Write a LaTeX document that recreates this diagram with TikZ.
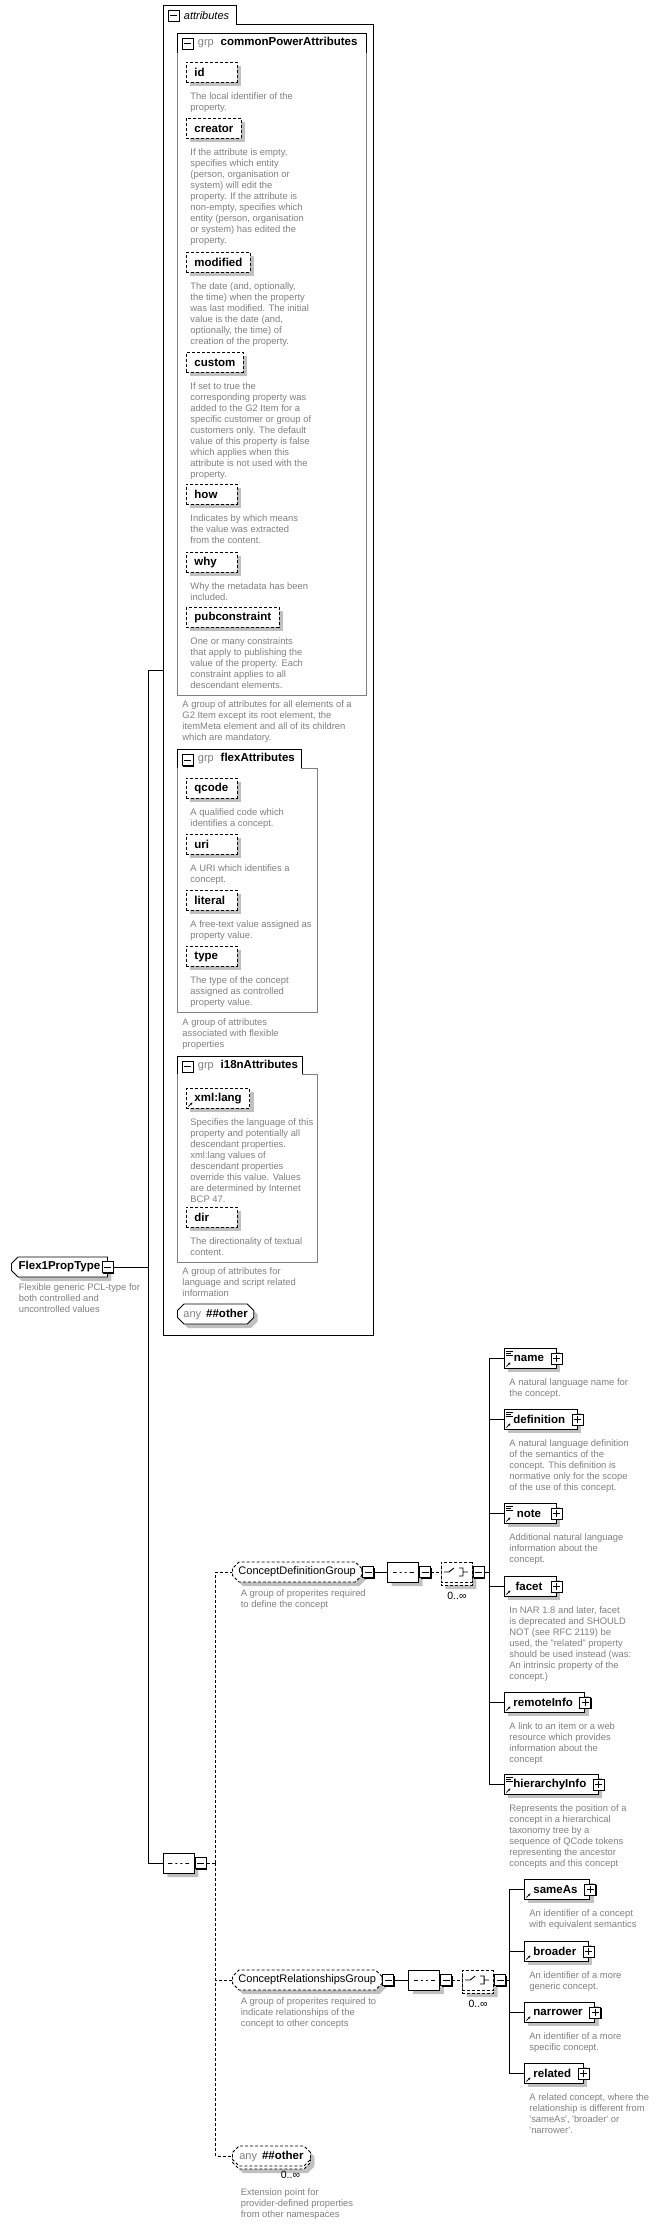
\documentclass[tikz,border=0pt]{standalone}
\usepackage{fontspec}
\setmainfont{Liberation Sans}
\usetikzlibrary{positioning,shapes.misc,shadows,arrows.meta}

\definecolor{descgray}{RGB}{128,128,128}
\definecolor{shadowgray}{RGB}{192,192,192}
\definecolor{groupgray}{RGB}{128,128,128}

\newcommand\attrname[1]{\setbox0=\hbox{#1}\ifdim\wd0<35pt\hbox to 35pt{#1\hfil}\else\box0\fi}
\newcommand\anyword{\fontsize{11}{12}\selectfont\mdseries\color{descgray}}

\tikzset{
  dashline/.style={dash pattern=on 3pt off 2pt},
  grayshadow/.style={drop shadow={shadow xshift=4pt,shadow yshift=-4pt,fill=shadowgray,opacity=1}},
  multishadow/.style={drop shadow={shadow xshift=4pt,shadow yshift=-7pt,fill=shadowgray,opacity=1},
    copy shadow={shadow xshift=0pt,shadow yshift=-3pt,draw,dashline,fill=white}},
  boldlabel/.style={font=\fontsize{11.5}{13}\selectfont\bfseries},
  attr/.style={draw,dashline,fill=white,grayshadow,boldlabel,anchor=north west,minimum height=20pt,inner xsep=8pt,inner ysep=0pt},
  elem/.style={draw,fill=white,grayshadow,boldlabel,anchor=north west,minimum height=20pt,minimum width=52pt,inner xsep=0pt,inner ysep=0pt,
    execute at begin node=\hspace{9pt},execute at end node=\hspace{12pt}},
  refmark/.style={path picture={
    \draw[solid,line width=0.8pt,-{Stealth[length=2.5pt,width=2.5pt]}] ([shift={(2pt,2pt)}]path picture bounding box.south west) -- ++(4pt,4pt);}},
  textmark/.style={path picture={
    \draw[solid,line width=0.8pt,-{Stealth[length=2.5pt,width=2.5pt]}] ([shift={(2pt,2pt)}]path picture bounding box.south west) -- ++(4pt,4pt);
    \draw[solid,line width=0.6pt] ([shift={(2pt,-2.5pt)}]path picture bounding box.north west) -- ++(7pt,0pt)
      ([shift={(2pt,-4.5pt)}]path picture bounding box.north west) -- ++(5pt,0pt)
      ([shift={(2pt,-6.5pt)}]path picture bounding box.north west) -- ++(7pt,0pt);}},
  desc/.style={align=left,inner sep=0pt,text=descgray,font=\fontsize{9.4}{11}\selectfont},
  grplabel/.style={inner sep=0pt,text=descgray,font=\fontsize{11}{12}\selectfont},
  grptitle/.style={inner sep=0pt,boldlabel},
  minusbox/.style={rectangle,draw,solid,fill=white,minimum size=11pt,inner sep=0pt,
    drop shadow={shadow xshift=1pt,shadow yshift=-1pt,fill=black,opacity=1},
    path picture={\draw ([xshift=2pt]path picture bounding box.west) -- ([xshift=-2pt]path picture bounding box.east);}},
  plusbox/.style={minusbox,path picture={\draw ([xshift=2pt]path picture bounding box.west) -- ([xshift=-2pt]path picture bounding box.east)
    ([yshift=2pt]path picture bounding box.south) -- ([yshift=-2pt]path picture bounding box.north);}},
  seqbox/.style={chamfered rectangle,chamfered rectangle xsep=5pt,draw,fill=white,grayshadow,minimum width=31pt,minimum height=20pt,inner sep=0pt,
    path picture={\draw[solid] ([xshift=5pt]path picture bounding box.west) -- ([xshift=-5pt]path picture bounding box.east);
      \fill ([xshift=-5pt]path picture bounding box.center) +(-1.5pt,-1.5pt) rectangle +(1.5pt,1.5pt)
        (path picture bounding box.center) +(-1.5pt,-1.5pt) rectangle +(1.5pt,1.5pt)
        ([xshift=5pt]path picture bounding box.center) +(-1.5pt,-1.5pt) rectangle +(1.5pt,1.5pt);}},
  choicebox/.style={chamfered rectangle,chamfered rectangle xsep=5pt,draw,dashline,fill=white,multishadow,minimum width=31pt,minimum height=20pt,inner sep=0pt,
    path picture={\draw[solid] ([xshift=-13pt]path picture bounding box.center) -- ++(5pt,0pt) -- ++(5pt,4pt)
        ([shift={(2pt,4pt)}]path picture bounding box.center) -- ++(4pt,0pt) -- ++(0pt,-8pt) -- ++(-4pt,0pt)
        ([xshift=6pt]path picture bounding box.center) -- ++(5pt,0pt);
      \fill ([yshift=4pt]path picture bounding box.center) +(-1.5pt,-1.5pt) rectangle +(1.5pt,1.5pt)
        (path picture bounding box.center) +(-1.5pt,-1.5pt) rectangle +(1.5pt,1.5pt)
        ([yshift=-4pt]path picture bounding box.center) +(-1.5pt,-1.5pt) rectangle +(1.5pt,1.5pt);}},
  grpref/.style={chamfered rectangle,chamfered rectangle xsep=3pt,draw,dashline,fill=white,grayshadow,anchor=west,minimum height=20pt,inner xsep=3pt,inner ysep=0pt,font=\fontsize{11}{12}\selectfont},
  ctype/.style={chamfered rectangle,chamfered rectangle corners={north west,south west},chamfered rectangle xsep=3pt,draw,fill=white,grayshadow,boldlabel,anchor=west,minimum height=20pt,inner xsep=2pt,inner ysep=0pt},
  anybox/.style={chamfered rectangle,chamfered rectangle xsep=3pt,draw,fill=white,grayshadow,boldlabel,anchor=west,minimum height=20pt,inner xsep=3pt,inner ysep=0pt},
  occ/.style={inner sep=0pt,font=\fontsize{10.5}{12}\selectfont}
}

\begin{document}
\begin{tikzpicture}[x=1pt,y=-1pt,line width=0.9pt]
\useasboundingbox (0,0) rectangle (659,2227);

% complex type
\node[ctype,minimum width=96pt] (fpt) at (11,1267) {Flex1PropType\hspace{9pt}};
\node[minusbox] (fptx) at (fpt.east) {};
\node[desc,below right=9pt and 4pt of fpt.south west] (fpt-d) {Flexible generic PCL-type for\\both controlled and\\uncontrolled values};

% attributes
\draw (163,5) -- (236,5) -- (236,24) -- (373,24) -- (373,1335) -- (163,1335) -- cycle;
\node[minusbox] (attrx) at (173.5,15.5) {};
\node[inner sep=0pt,font=\fontsize{11}{12}\selectfont\itshape,right=4pt of attrx] (attrt) {attributes};

% commonPowerAttributes
\draw[groupgray] (177,53) -- (177,695) -- (366,695) -- (366,53);
\draw (177,53) -- (177,33) -- (366,33) -- (366,53);
\node[minusbox] (cpax) at (187.5,43.5) {};
\node[grplabel,right=4pt of cpax] (cpag) {grp};
\node[grptitle,base right=6pt of cpag] (cpa) {commonPowerAttributes};
\node[attr] (id) at (186,62) {\attrname{id}};
\node[desc,below right=9pt and 4pt of id.south west] (id-d) {The local identifier of the\\property.};
\node[attr] (creator) at (186,118) {\attrname{creator}};
\node[desc,below right=9pt and 4pt of creator.south west] (creator-d) {If the attribute is empty,\\specifies which entity\\(person, organisation or\\system) will edit the\\property. If the attribute is\\non-empty, specifies which\\entity (person, organisation\\or system) has edited the\\property.};
\node[attr] (modified) at (186,252) {\attrname{modified}};
\node[desc,below right=9pt and 4pt of modified.south west] (modified-d) {The date (and, optionally,\\the time) when the property\\was last modified. The initial\\value is the date (and,\\optionally, the time) of\\creation of the property.};
\node[attr] (custom) at (186,352) {\attrname{custom}};
\node[desc,below right=9pt and 4pt of custom.south west] (custom-d) {If set to true the\\corresponding property was\\added to the G2 Item for a\\specific customer or group of\\customers only. The default\\value of this property is false\\which applies when this\\attribute is not used with the\\property.};
\node[attr] (how) at (186,484) {\attrname{how}};
\node[desc,below right=9pt and 4pt of how.south west] (how-d) {Indicates by which means\\the value was extracted\\from the content.};
\node[attr] (why) at (186,552) {\attrname{why}};
\node[desc,below right=9pt and 4pt of why.south west] (why-d) {Why the metadata has been\\included.};
\node[attr] (pubconstraint) at (186,607) {\attrname{pubconstraint}};
\node[desc,below right=9pt and 4pt of pubconstraint.south west] (pubconstraint-d) {One or many constraints\\that apply to publishing the\\value of the property. Each\\constraint applies to all\\descendant elements.};
\node[desc,anchor=north west] (cpa-d) at (182,700) {A group of attributes for all elements of a\\G2 Item except its root element, the\\itemMeta element and all of its children\\which are mandatory.};

% flexAttributes
\draw[groupgray] (177,768) -- (177,1012) -- (317,1012) -- (317,768) -- (301,768);
\draw (177,768) -- (177,749) -- (301,749) -- (301,768);
\node[minusbox] (flexx) at (187.5,760) {};
\node[grplabel,right=4pt of flexx] (flexg) {grp};
\node[grptitle,base right=6pt of flexg] (flex) {flexAttributes};
\node[attr] (qcode) at (186,778) {\attrname{qcode}};
\node[desc,below right=9pt and 4pt of qcode.south west] (qcode-d) {A qualified code which\\identifies a concept.};
\node[attr] (uri) at (186,834) {\attrname{uri}};
\node[desc,below right=9pt and 4pt of uri.south west] (uri-d) {A URI which identifies a\\concept.};
\node[attr] (literal) at (186,890) {\attrname{literal}};
\node[desc,below right=9pt and 4pt of literal.south west] (literal-d) {A free-text value assigned as\\property value.};
\node[attr] (type) at (186,946) {\attrname{type}};
\node[desc,below right=9pt and 4pt of type.south west] (type-d) {The type of the concept\\assigned as controlled\\property value.};
\node[desc,anchor=north west] (flex-d) at (182,1018) {A group of attributes\\associated with flexible\\properties};

% i18nAttributes
\draw[groupgray] (177,1074) -- (177,1262) -- (317,1262) -- (317,1074) -- (302,1074);
\draw (177,1074) -- (177,1056) -- (302,1056) -- (302,1074);
\node[minusbox] (i18nx) at (187.5,1066.5) {};
\node[grplabel,right=4pt of i18nx] (i18ng) {grp};
\node[grptitle,base right=6pt of i18ng] (i18n) {i18nAttributes};
\node[attr,refmark] (xmllang) at (186,1088) {\attrname{xml:lang}};
\node[desc,below right=9pt and 4pt of xmllang.south west] (xmllang-d) {Specifies the language of this\\property and potentially all\\descendant properties.\\xml:lang values of\\descendant properties\\override this value. Values\\are determined by Internet\\BCP 47.};
\node[attr] (dir) at (186,1207) {\attrname{dir}};
\node[desc,below right=9pt and 4pt of dir.south west] (dir-d) {The directionality of textual\\content.};
\node[desc,anchor=north west] (i18n-d) at (182,1267) {A group of attributes for\\language and script related\\information};

% attribute wildcard
\node[anybox,minimum width=76pt] (anyat) at (177,1314) {{\anyword any}\hspace{5pt}\#\#other};

% content model
\node[seqbox,anchor=west] (seq0) at (163,1863) {};
\node[minusbox,right=0pt of seq0] (seq0x) {};

\node[grpref,minimum width=122pt] (cdg) at (232,1572) {ConceptDefinitionGroup};
\node[minusbox,right=0pt of cdg] (cdgx) {};
\node[desc,below right=10pt and 5pt of cdg.south west] (cdg-d) {A group of properites required\\to define the concept};
\node[seqbox,right=13pt of cdgx] (seq1) {};
\node[minusbox,right=0pt of seq1] (seq1x) {};
\node[choicebox,right=10pt of seq1x] (ch1) {};
\node[minusbox,right=0pt of ch1] (ch1x) {};
\node[occ,below=9pt of ch1] (ch1-o) {0..∞};

\node[elem,textmark] (e-name) at (504,1348) {name};
\node[plusbox] (e-namex) at (e-name.east) {};
\node[desc,below right=9pt and 5pt of e-name.south west] (e-name-d) {A natural language name for\\the concept.};
\node[elem,textmark] (e-definition) at (504,1409) {definition};
\node[plusbox] (e-definitionx) at (e-definition.east) {};
\node[desc,below right=9pt and 5pt of e-definition.south west] (e-definition-d) {A natural language definition\\of the semantics of the\\concept. This definition is\\normative only for the scope\\of the use of this concept.};
\node[elem,textmark] (e-note) at (504,1503) {note};
\node[plusbox] (e-notex) at (e-note.east) {};
\node[desc,below right=9pt and 5pt of e-note.south west] (e-note-d) {Additional natural language\\information about the\\concept.};
\node[elem,refmark] (e-facet) at (504,1576) {facet};
\node[plusbox] (e-facetx) at (e-facet.east) {};
\node[desc,below right=9pt and 5pt of e-facet.south west] (e-facet-d) {In NAR 1.8 and later, facet\\is deprecated and SHOULD\\NOT (see RFC 2119) be\\used, the "related" property\\should be used instead (was:\\An intrinsic property of the\\concept.)};
\node[elem,refmark] (e-remoteInfo) at (504,1692) {remoteInfo};
\node[plusbox] (e-remoteInfox) at (e-remoteInfo.east) {};
\node[desc,below right=9pt and 5pt of e-remoteInfo.south west] (e-remoteInfo-d) {A link to an item or a web\\resource which provides\\information about the\\concept};
\node[elem,textmark] (e-hierarchyInfo) at (504,1774) {hierarchyInfo};
\node[plusbox] (e-hierarchyInfox) at (e-hierarchyInfo.east) {};
\node[desc,below right=9pt and 5pt of e-hierarchyInfo.south west] (e-hierarchyInfo-d) {Represents the position of a\\concept in a hierarchical\\taxonomy tree by a\\sequence of QCode tokens\\representing the ancestor\\concepts and this concept};

\node[grpref,minimum width=140pt] (crg) at (232,1980) {ConceptRelationshipsGroup};
\node[minusbox,right=0pt of crg] (crgx) {};
\node[desc,below right=10pt and 5pt of crg.south west] (crg-d) {A group of properites required to\\indicate relationships of the\\concept to other concepts};
\node[seqbox,right=14pt of crgx] (seq2) {};
\node[minusbox,right=0pt of seq2] (seq2x) {};
\node[choicebox,right=10pt of seq2x] (ch2) {};
\node[minusbox,right=0pt of ch2] (ch2x) {};
\node[occ,below=9pt of ch2] (ch2-o) {0..∞};

\node[elem,refmark] (e-sameAs) at (524,1879) {sameAs};
\node[plusbox] (e-sameAsx) at (e-sameAs.east) {};
\node[desc,below right=9pt and 5pt of e-sameAs.south west] (e-sameAs-d) {An identifier of a concept\\with equivalent semantics};
\node[elem,refmark] (e-broader) at (524,1941) {broader};
\node[plusbox] (e-broaderx) at (e-broader.east) {};
\node[desc,below right=9pt and 5pt of e-broader.south west] (e-broader-d) {An identifier of a more\\generic concept.};
\node[elem,refmark] (e-narrower) at (524,2002) {narrower};
\node[plusbox] (e-narrowerx) at (e-narrower.east) {};
\node[desc,below right=9pt and 5pt of e-narrower.south west] (e-narrower-d) {An identifier of a more\\specific concept.};
\node[elem,refmark] (e-related) at (524,2063) {related};
\node[plusbox] (e-relatedx) at (e-related.east) {};
\node[desc,below right=9pt and 5pt of e-related.south west] (e-related-d) {A related concept, where the\\relationship is different from\\\textquotesingle sameAs\textquotesingle, \textquotesingle broader\textquotesingle\ or\\\textquotesingle narrower\textquotesingle.};

\node[anybox,dashline,multishadow,minimum width=78pt] (anyel) at (232,2156) {{\anyword any}\hspace{5pt}\#\#other};
\node[occ,below left=8pt and 7pt of anyel.south east] (anyel-o) {0..∞};
\node[desc,below right=25pt and 5pt of anyel.south west] (anyel-d) {Extension point for\\provider-defined properties\\from other namespaces};

% connectors
\coordinate (attrin) at (163,670);
\draw (fptx.east) -- ++(35pt,0pt) coordinate (msp);
\draw (msp) |- (attrin);
\draw (msp) |- (seq0.west);
\draw[dashline] (seq0x.east) -- ++(9pt,0pt) coordinate (dsp);
\draw[dashline] (dsp) |- (cdg.west);
\draw[dashline] (dsp) |- (crg.west);
\draw[dashline] (dsp) |- (anyel.west);
\draw (cdgx.east) -- (seq1.west);
\draw[dashline] (seq1x.east) -- (ch1.west);
\coordinate (csp1) at ([xshift=-15pt]e-name.west |- ch1x.east);
\draw (ch1x.east) -- (csp1);
\draw (csp1) |- (e-name.west);
\draw (csp1) |- (e-definition.west);
\draw (csp1) |- (e-note.west);
\draw (csp1) |- (e-facet.west);
\draw (csp1) |- (e-remoteInfo.west);
\draw (csp1) |- (e-hierarchyInfo.west);
\draw (crgx.east) -- (seq2.west);
\draw[dashline] (seq2x.east) -- (ch2.west);
\coordinate (csp2) at ([xshift=-15pt]e-sameAs.west |- ch2x.east);
\draw (ch2x.east) -- (csp2);
\draw (csp2) |- (e-sameAs.west);
\draw (csp2) |- (e-broader.west);
\draw (csp2) |- (e-narrower.west);
\draw (csp2) |- (e-related.west);
\end{tikzpicture}
\end{document}
